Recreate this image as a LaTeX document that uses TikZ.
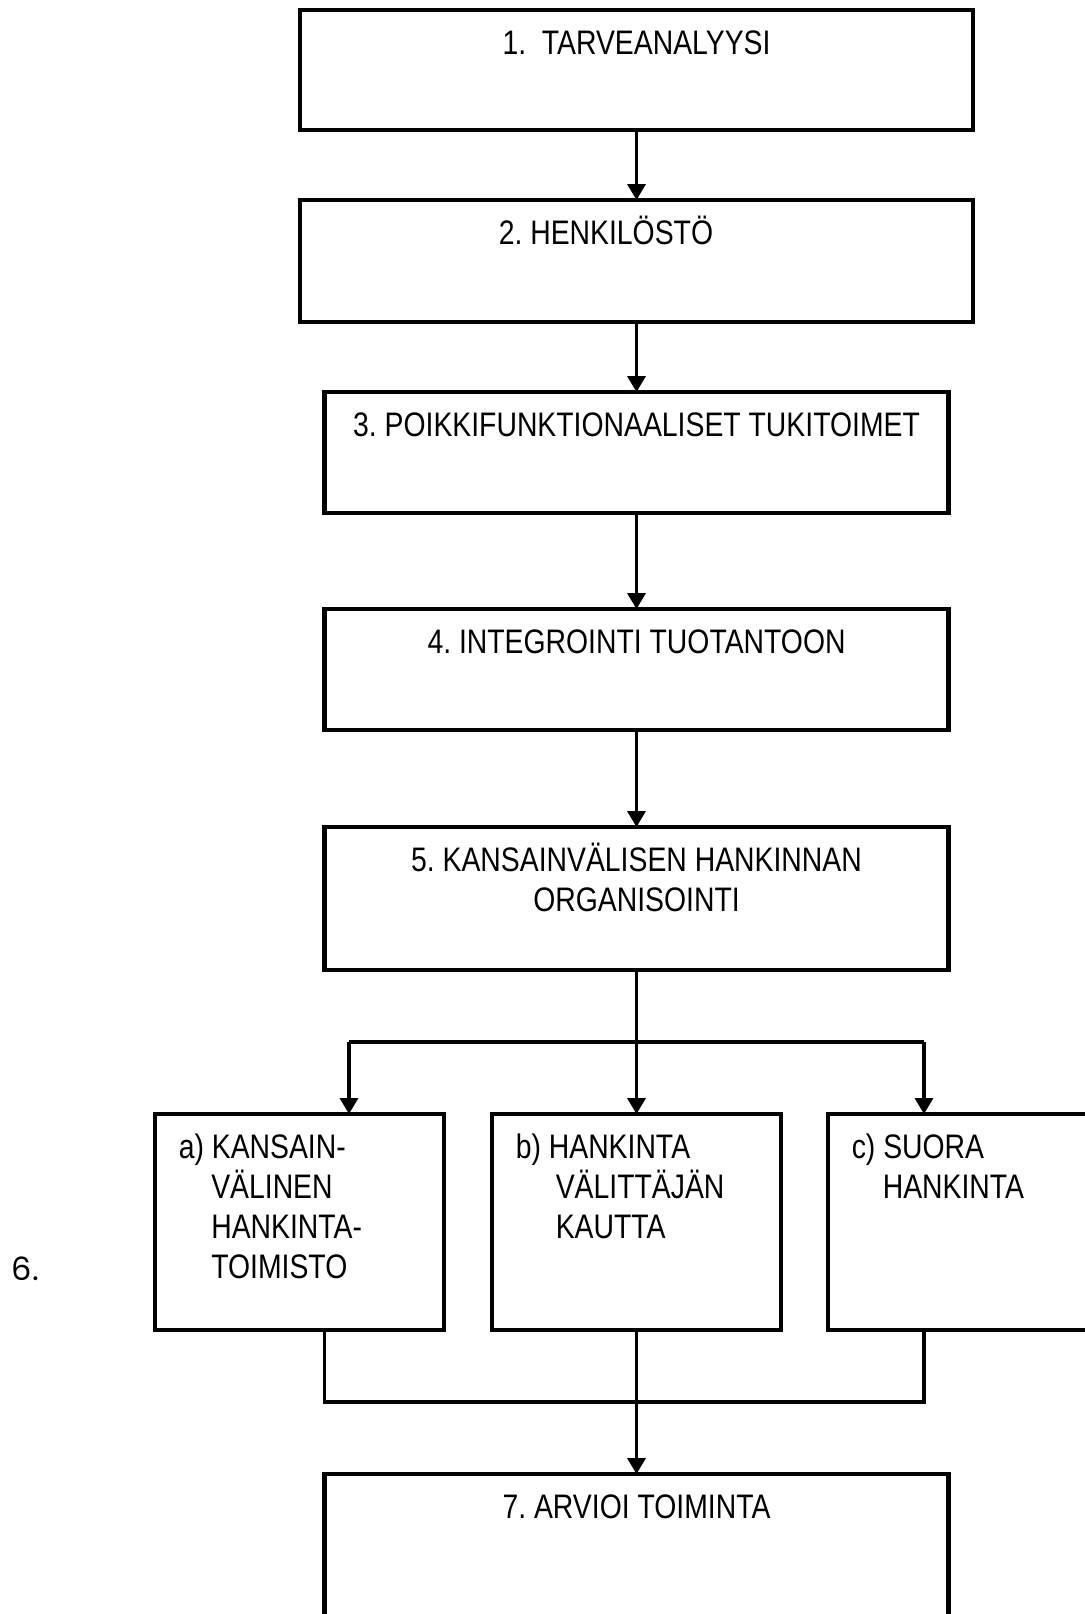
\documentclass[tikz,border=0pt]{standalone}
\usepackage{fontspec}
\setmainfont[FakeStretch=0.834]{Liberation Sans}
\newfontfamily\gothfont{Poppins}
\usetikzlibrary{shapes,arrows.meta,positioning,calc}
\frenchspacing

\begin{document}
\begin{tikzpicture}[
  node distance=35pt,
  stage/.style={rectangle, draw, line width=2.4pt, outer sep=0pt, inner sep=0pt, minimum width=312pt, minimum height=60.5pt},
  wide/.style={stage, minimum width=336.5pt},
  sub/.style={stage, minimum width=144.5pt, minimum height=108pt},
  title/.style={anchor=base, inner sep=0pt, yshift=-22pt, font=\fontsize{17}{20}\selectfont},
  subtitle/.style={anchor=base west, inner sep=0pt, xshift=11pt, yshift=-22pt, font=\fontsize{17}{20}\selectfont},
  >={Triangle[length=8pt,width=9pt]},
  line width=1.8pt
]

  \useasboundingbox (0,0) rectangle (542.5pt,-807pt);

  % Main stages
  \node[wide, minimum height=60pt, anchor=north] (S1) at (318.25pt,-5pt) {};
  \node[wide, minimum height=61pt, below=of S1] (S2) {};
  \node[stage, below=of S2] (S3) {};
  \node[stage, below=48pt of S3] (S4) {};
  \node[stage, minimum height=71.5pt, below=48.5pt of S4] (S5) {};

  % Ways of buying
  \node[sub, below=72pt of S5] (S6b) {};
  \node[sub, left=24pt of S6b] (S6a) {};
  \node[sub, right=23.5pt of S6b] (S6c) {};

  % Evaluation
  \node[stage, minimum height=100pt, below=72pt of S6b] (S7) {};

  % Texts
  \node[title] (t1) at (S1.north) {1.\ \ TARVEANALYYSI};
  \node[subtitle, xshift=87.5pt] (t2) at (S2.north west) {2. HENKILÖSTÖ};
  \node[title] (t3) at (S3.north) {3. POIKKIFUNKTIONAALISET TUKITOIMET};
  \node[title] (t4) at (S4.north) {4. INTEGROINTI TUOTANTOON};
  \node[title] (t5) at (S5.north) {\begin{tabular}[t]{@{}c@{}}5. KANSAINVÄLISEN HANKINNAN\\ ORGANISOINTI\end{tabular}};
  \node[subtitle] (t6a) at (S6a.north west) {\begin{tabular}[t]{@{}l@{}}a) KANSAIN-\\ \hspace*{16.25pt}VÄLINEN\\ \hspace*{16.25pt}HANKINTA-\\ \hspace*{16.25pt}TOIMISTO\end{tabular}};
  \node[subtitle] (t6b) at (S6b.north west) {\begin{tabular}[t]{@{}l@{}}b) HANKINTA\\ \hspace*{20pt}VÄLITTÄJÄN\\ \hspace*{20pt}KAUTTA\end{tabular}};
  \node[subtitle] (t6c) at (S6c.north west) {\begin{tabular}[t]{@{}l@{}}c) SUORA\\ \hspace*{15.5pt}HANKINTA\end{tabular}};
  \node[title] (t7) at (S7.north) {7. ARVIOI TOIMINTA};
  \node[anchor=base west, inner sep=0pt, font=\gothfont\fontsize{16}{20}\selectfont] (six) at (5pt,-640pt) {6.};

  % Flow down
  \draw[->] (S1) -- (S2);
  \draw[->] (S2) -- (S3);
  \draw[->] (S3) -- (S4);
  \draw[->] (S4) -- (S5);

  % Split
  \coordinate[below=36pt of S5] (split);
  \coordinate[left=143.75pt of split] (splitA);
  \coordinate[right=143.75pt of split] (splitC);
  \draw (S5) -- (split);
  \draw (splitA) -- (splitC);
  \draw[->] (splitA) -- (splitA |- S6a.north);
  \draw[->] (split) -- (S6b);
  \draw[->] (splitC) -- (splitC |- S6c.north);

  % Merge
  \coordinate[below=36pt of S6b] (merge);
  \coordinate[left=156pt of merge] (mergeA);
  \coordinate[right=143.75pt of merge] (mergeC);
  \draw (mergeA |- S6a.south) -- (mergeA) -- (mergeC) -- (mergeC |- S6c.south);
  \draw (S6b) -- (merge);
  \draw[->] (merge) -- (S7);

\end{tikzpicture}
\end{document}
